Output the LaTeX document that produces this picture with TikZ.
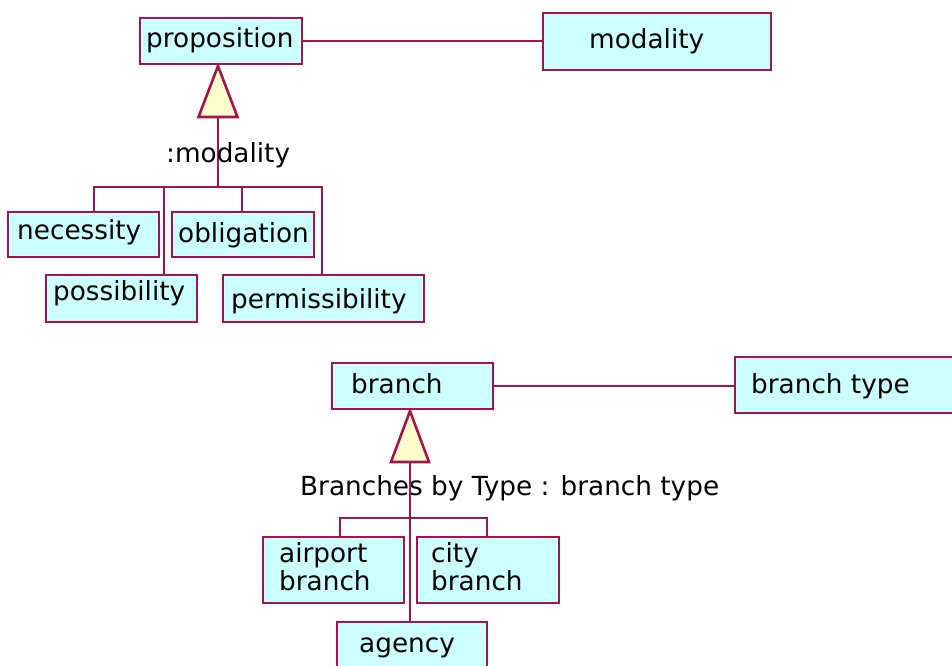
\documentclass[tikz,border=0pt]{standalone}
\usepackage{fontspec}
\setmainfont{DejaVu Sans}
\definecolor{edge}{RGB}{163,20,75}
\definecolor{boxfill}{RGB}{204,255,255}
\definecolor{trifill}{RGB}{255,255,204}
\tikzset{
  box/.style={draw=edge, fill=boxfill, line width=2.6pt, inner sep=0pt},
  lbl/.style={inner sep=0pt, font=\fontsize{26.3}{28}\selectfont, text=black},
  conn/.style={draw=edge, line width=2.6pt},
  tri/.style={draw=edge, fill=trifill, line width=2.6pt, line join=miter}
}
\begin{document}
\begin{tikzpicture}[x=1pt,y=-1pt]
\useasboundingbox (0,0) rectangle (952,665);
\clip (0,0) rectangle (952,665);
% top hierarchy
\node[box, minimum width=162pt, minimum height=46pt] (proposition) at (221,41) {};
\node[box, minimum width=228pt, minimum height=57pt] (modality) at (657,41.5) {};
\node[box, minimum width=151pt, minimum height=45pt] (necessity) at (83.5,234.5) {};
\node[box, minimum width=142pt, minimum height=45pt] (obligation) at (243,234.5) {};
\node[box, minimum width=151pt, minimum height=47pt] (possibility) at (121.5,298.5) {};
\node[box, minimum width=201pt, minimum height=47pt] (permissibility) at (323.5,298.5) {};
\node[lbl, anchor=base west] at (146,47) {proposition};
\node[lbl, anchor=base west] at (589,48) {modality};
\node[lbl, anchor=base west] at (17,239) {necessity};
\node[lbl, anchor=base west] at (178,242) {obligation};
\node[lbl, anchor=base west] at (53,300) {possibility};
\node[lbl, anchor=base west] at (231,308) {permissibility};
\draw[conn] (proposition.east) -- (proposition.east -| modality.west);
\coordinate (apex1) at (218,66);
\coordinate (tl1) at (198.5,117);
\coordinate (tr1) at (237.5,117);
\coordinate (tb1) at (218,117);
\coordinate (bar1) at (218,187);
\coordinate (bl1) at (94,187);
\coordinate (br1) at (322,187);
\coordinate (d2) at (164,187);
\coordinate (d3) at (242,187);
\draw[conn] (tb1) -- (bar1);
\draw[conn] (bl1 |- necessity.north) -- (bl1) -- (br1) -- (br1 |- permissibility.north);
\draw[conn] (d2) -- (d2 |- possibility.north);
\draw[conn] (d3) -- (d3 |- obligation.north);
\draw[tri] (apex1) -- (tr1) -- (tl1) -- cycle;
\node[lbl, anchor=base west] (mlabel) at (166,162) {:modality};
% bottom hierarchy
\node[box, minimum width=161pt, minimum height=46pt] (branch) at (412.5,386) {};
\node[box, minimum width=240pt, minimum height=56pt] (branchtype) at (855,385) {};
\node[box, minimum width=141pt, minimum height=66pt] (airport) at (333.5,570) {};
\node[box, minimum width=142pt, minimum height=66pt] (city) at (488,570) {};
\node[box, minimum width=150pt, minimum height=60pt] (agency) at (412,652) {};
\node[lbl, anchor=base west] at (351,393) {branch};
\node[lbl, anchor=base west] at (751,393) {branch type};
\node[lbl, anchor=base west, align=left] at (279,590) {airport\\branch};
\node[lbl, anchor=base west, align=left] at (431,590) {city\\branch};
\node[lbl, anchor=base west] at (359,652) {agency};
\draw[conn] (branch.east) -- (branch.east -| branchtype.west);
\coordinate (apex2) at (410,411);
\coordinate (tl2) at (391,462);
\coordinate (tr2) at (429,462);
\coordinate (tb2) at (410,462);
\coordinate (bl2) at (340,518);
\coordinate (br2) at (487,518);
\draw[conn] (bl2 |- airport.north) -- (bl2) -- (br2) -- (br2 |- city.north);
\node[lbl, anchor=base west] (blabel) at (300,495) {Branches by Type : branch type};
\draw[conn] (tb2) -- (tb2 |- agency.north);
\draw[tri] (apex2) -- (tr2) -- (tl2) -- cycle;
\end{tikzpicture}
\end{document}
